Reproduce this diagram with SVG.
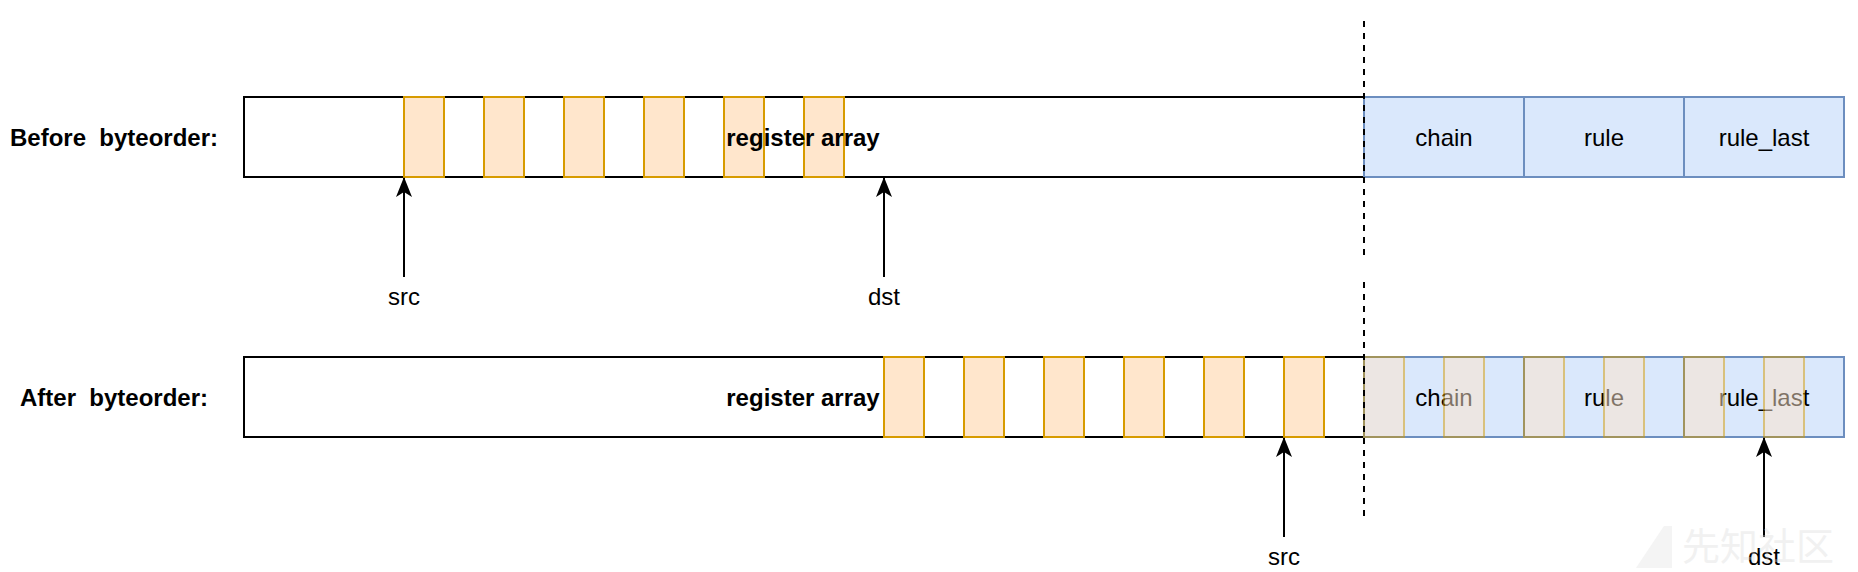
<svg xmlns="http://www.w3.org/2000/svg" width="1858" height="572" viewBox="0 0 1858 572">
<style>
text{font-family:"Liberation Sans",Arial,sans-serif;font-size:24px;fill:#000}
.b{font-weight:bold}
.m{text-anchor:middle}
.reg{fill:#fff;stroke:#000;stroke-width:2}
.cell{fill:#ffe6cc;stroke:#d79b00;stroke-width:2}
.ov{fill:#ffe6cc;stroke:#d79b00;stroke-width:2;opacity:0.5}
.blue{fill:#dae8fc;stroke:#6c8ebf;stroke-width:2}
.arr{fill:none;stroke:#000;stroke-width:2;marker-end:url(#ah)}
.dash{fill:none;stroke:#000;stroke-width:2;stroke-dasharray:6 6}
</style>
<defs>
<marker id="ah" viewBox="0 0 20 16" refX="19" refY="8" markerWidth="20" markerHeight="16" markerUnits="userSpaceOnUse" orient="auto">
<path d="M0,0 L20,8 L0,16 L5,8 z" fill="#000"/>
</marker>
</defs>
<rect width="1858" height="572" fill="#fff"/>
<g id="label-before"><text class="b m" x="114" y="146" xml:space="preserve">Before  byteorder:</text></g>
<g id="label-after"><text class="b m" x="114" y="406" xml:space="preserve">After  byteorder:</text></g>
<g id="row1">
<rect class="reg" x="244" y="97" width="1120" height="80"/>
<rect class="cell" x="404" y="97" width="40" height="80"/>
<rect class="cell" x="484" y="97" width="40" height="80"/>
<rect class="cell" x="564" y="97" width="40" height="80"/>
<rect class="cell" x="644" y="97" width="40" height="80"/>
<rect class="cell" x="724" y="97" width="40" height="80"/>
<rect class="cell" x="804" y="97" width="40" height="80"/>
<text class="b m" x="803" y="146">register array</text>
</g>
<g id="row1-blue">
<rect class="blue" x="1364" y="97" width="160" height="80"/>
<rect class="blue" x="1524" y="97" width="160" height="80"/>
<rect class="blue" x="1684" y="97" width="160" height="80"/>
<text class="m" x="1444" y="146">chain</text>
<text class="m" x="1604" y="146">rule</text>
<text class="m" x="1764" y="146">rule_last</text>
</g>
<g id="row2">
<rect class="reg" x="244" y="357" width="1120" height="80"/>
<rect class="cell" x="884" y="357" width="40" height="80"/>
<rect class="cell" x="964" y="357" width="40" height="80"/>
<rect class="cell" x="1044" y="357" width="40" height="80"/>
<rect class="cell" x="1124" y="357" width="40" height="80"/>
<rect class="cell" x="1204" y="357" width="40" height="80"/>
<rect class="cell" x="1284" y="357" width="40" height="80"/>
<text class="b m" x="803" y="406">register array</text>
</g>
<g id="row2-blue">
<rect class="blue" x="1364" y="357" width="160" height="80"/>
<rect class="blue" x="1524" y="357" width="160" height="80"/>
<rect class="blue" x="1684" y="357" width="160" height="80"/>
<text class="m" x="1444" y="406">chain</text>
<text class="m" x="1604" y="406">rule</text>
<text class="m" x="1764" y="406">rule_last</text>
<rect class="ov" x="1364" y="357" width="40" height="80"/>
<rect class="ov" x="1444" y="357" width="40" height="80"/>
<rect class="ov" x="1524" y="357" width="40" height="80"/>
<rect class="ov" x="1604" y="357" width="40" height="80"/>
<rect class="ov" x="1684" y="357" width="40" height="80"/>
<rect class="ov" x="1764" y="357" width="40" height="80"/>
</g>
<g id="connectors">
<line class="dash" x1="1364" y1="21" x2="1364" y2="255"/>
<line class="dash" x1="1364" y1="282" x2="1364" y2="516"/>
<line class="arr" x1="404" y1="277" x2="404" y2="178"/>
<line class="arr" x1="884" y1="277" x2="884" y2="178"/>
<line class="arr" x1="1284" y1="537" x2="1284" y2="438"/>
<line class="arr" x1="1764" y1="537" x2="1764" y2="438"/>
</g>
<g id="pointer-labels">
<text class="m" x="404" y="305">src</text>
<text class="m" x="884" y="305">dst</text>
<text class="m" x="1284" y="565">src</text>
<text class="m" x="1764" y="565">dst</text>
</g>
<g id="watermark" opacity="0.35">
<path d="M1636,568 L1664,526 L1672,526 L1672,568 Z" fill="#e0e0e0"/>
<text x="1682" y="560" style="font-family:'Noto Sans CJK SC',sans-serif;font-size:38px;fill:#d8d8d8">先知社区</text>
</g>
</svg>
